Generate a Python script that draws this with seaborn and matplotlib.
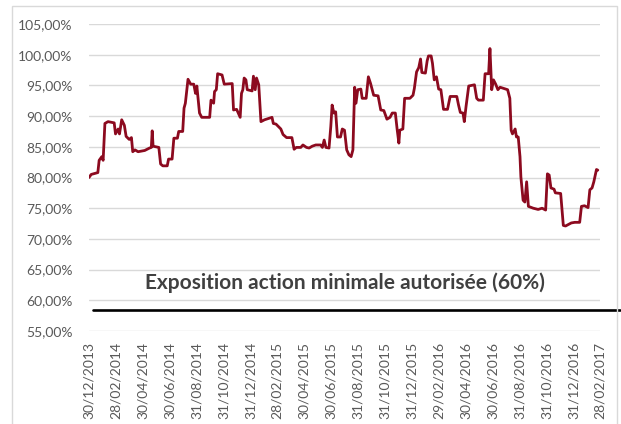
"""Exposition action du fonds depuis fin 2013, avec le seuil minimal autorisé."""

import matplotlib
matplotlib.use("Agg")
import matplotlib.pyplot as plt
import matplotlib.patches as patches
from matplotlib import ticker
import pandas as pd
import seaborn as sns

# %% DATA (days since 30/12/2013, exposure in %)
start = "2013-12-30"
days = [
    0, 5, 20, 23, 29, 32, 36, 43, 57, 60, 66, 69, 74, 80, 84, 91, 96, 99, 104, 111,
    126, 137, 141, 143, 145, 158, 162, 167, 177, 180, 188, 192, 200, 203, 212, 215,
    218, 224, 230, 237, 241, 244, 250, 255, 273, 276, 282, 284, 288, 291, 301, 306,
    324, 327, 334, 342, 345, 348, 351, 355, 358, 369, 372, 376, 379, 384, 389, 397,
    414, 417, 423, 427, 434, 439, 447, 459, 464, 469, 479, 484, 492, 498, 505, 513,
    524, 528, 532, 536, 543, 547, 550, 554, 558, 562, 569, 573, 578, 583, 588, 593,
    597, 601, 604, 608, 615, 618, 627, 632, 637, 644, 654, 660, 667, 674, 681, 686,
    693, 697, 701, 703, 710, 714, 726, 733, 736, 741, 746, 750, 753, 761, 765, 768,
    774, 777, 781, 786, 791, 796, 802, 811, 817, 832, 836, 840, 846, 849, 853, 859,
    872, 877, 881, 892, 896, 904, 907, 911, 915, 920, 925, 930, 947, 952, 955, 958,
    964, 967, 971, 975, 977, 982, 986, 990, 994, 1005, 1016, 1025, 1033, 1037, 1041,
    1045, 1052, 1055, 1067, 1073, 1078, 1091, 1099, 1110, 1114, 1121, 1129, 1133,
    1138, 1142, 1148, 1151,
]
exposure = [
    80.0, 80.5, 80.8, 82.8, 83.4, 82.8, 88.8, 89.1, 88.9, 87.1, 87.9, 87.1, 89.4, 88.5, 86.7, 86.2, 86.5, 84.2, 84.5, 84.2,
    84.4, 84.8, 84.9, 87.6, 85.1, 84.9, 82.2, 81.9, 81.9, 83.0, 83.0, 86.4, 86.4, 87.5, 87.5, 91.3,
    92.1, 96.0, 95.2, 95.2, 93.7, 94.9, 90.5, 89.8, 89.8, 92.6, 92.1, 94.0, 94.3, 96.9, 96.7, 95.2,
    95.3, 91.0, 91.1, 89.8, 93.7, 94.3, 96.2, 95.9, 94.3, 94.1, 96.5, 94.3, 96.2, 95.1, 89.1, 89.4,
    89.8, 88.8, 88.7, 88.4, 87.9, 87.0, 86.5, 86.5, 84.6, 84.9, 84.9, 85.3, 84.9, 84.8, 85.1, 85.3,
    85.3, 84.9, 86.1, 84.9, 84.8, 88.3, 91.8, 90.5, 90.7, 86.6, 86.6, 87.9, 87.7, 84.5, 83.7, 83.4,
    84.5, 94.7, 92.1, 94.3, 94.4, 92.9, 92.9, 96.4, 95.3, 93.4, 93.3, 91.0, 90.9, 89.5, 89.8, 90.5,
    90.5, 87.9, 85.6, 87.7, 87.9, 92.9, 92.9, 93.4, 94.5, 97.2, 97.9, 99.3, 97.1, 97.0, 99.0, 99.8,
    99.8, 98.6, 95.9, 96.4, 94.4, 94.3, 91.1, 91.1, 93.2, 93.2, 91.8, 90.6, 90.5, 89.1, 91.6, 94.9,
    95.1, 92.9, 92.6, 92.6, 96.9, 96.9, 101.0, 94.3, 95.9, 95.2, 94.3, 94.7, 94.3, 92.9, 87.7, 87.1,
    87.9, 86.6, 86.6, 83.4, 80.1, 76.3, 76.0, 79.3, 75.3, 75.0, 74.8, 75.0, 74.7, 80.6, 80.4,
    78.3, 78.1, 77.5, 77.4, 72.2, 72.1, 72.6, 72.7, 72.7, 75.3, 75.4, 75.1, 78.0,
    78.3, 79.3, 81.3, 81.2,
]
tick_labels = [
    "30/12/2013", "28/02/2014", "30/04/2014", "30/06/2014", "31/08/2014", "31/10/2014",
    "31/12/2014", "28/02/2015", "30/04/2015", "30/06/2015", "31/08/2015", "31/10/2015",
    "31/12/2015", "29/02/2016", "30/04/2016", "30/06/2016", "31/08/2016", "31/10/2016",
    "31/12/2016", "28/02/2017",
]
threshold_label = "Exposition action minimale autorisée (60%)"
threshold_level = 58.4

df = pd.DataFrame({
    "date": pd.Timestamp(start) + pd.to_timedelta(days, unit="D"),
    "exposure": exposure,
})
tick_dates = pd.to_datetime(tick_labels, format="%d/%m/%Y")

# %% VISUALISE
sns.set_theme(style="white")
plt.rcParams["font.family"] = ["Lato", "DejaVu Sans"]

fig = plt.figure(figsize=(6.21, 4.24), dpi=100)
ax = fig.add_axes([0.1433, 0.2193, 0.8229, 0.7241])

sns.lineplot(data=df, x="date", y="exposure", color="#8C0A1F", linewidth=2.0, ax=ax)

ax.set_ylim(55, 105)
ax.set_xlim(pd.Timestamp(start), tick_dates[-1])
ax.yaxis.set_major_locator(ticker.MultipleLocator(5))
ax.yaxis.set_major_formatter(
    ticker.FuncFormatter(lambda y, _: f"{y:.2f}".replace(".", ",") + "%")
)
ax.set_xticks(tick_dates)
ax.set_xticklabels(tick_labels, rotation=90)
ax.tick_params(axis="both", length=0, labelsize=10, labelcolor="#595959")
ax.tick_params(axis="y", pad=12)
ax.tick_params(axis="x", pad=8)

ax.grid(True, axis="y", color="#D9D9D9", linewidth=1)
ax.set_axisbelow(True)
for spine in ax.spines.values():
    spine.set_visible(False)
ax.set_xlabel("")
ax.set_ylabel("")

# Threshold line runs past the plot area, as in the original
ax.axhline(threshold_level, xmin=0.008, xmax=1.04, color="black", linewidth=1.9, clip_on=False)
ax.text(0.5, 62.8, threshold_label, transform=ax.get_yaxis_transform(),
        ha="center", va="center", fontsize=15, fontweight="bold", color="#404040")

# Light frame around the chart
fig.patches.append(patches.Rectangle(
    (0.0193, -0.01), 0.974, 0.996, transform=fig.transFigure,
    fill=False, edgecolor="#D9D9D9", linewidth=1,
))

fig.savefig("out.png", dpi=100)
